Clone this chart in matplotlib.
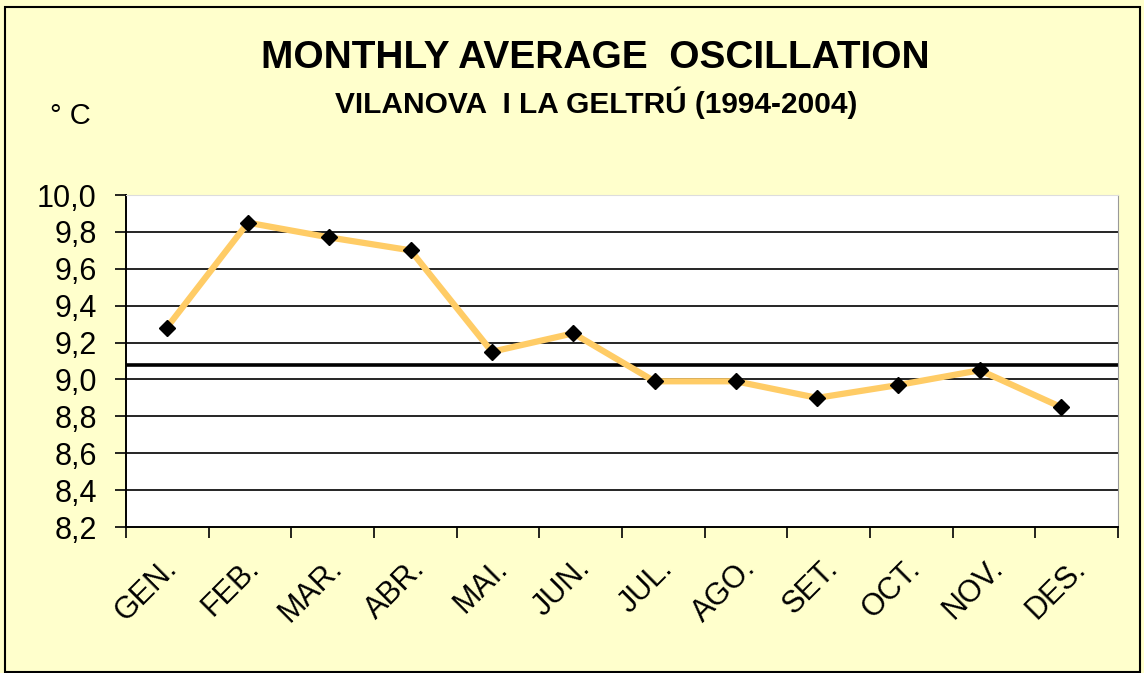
import matplotlib.pyplot as plt
from matplotlib.patches import Rectangle
import numpy as np

# data
months = ["GEN.", "FEB.", "MAR.", "ABR.", "MAI.", "JUN.",
          "JUL.", "AGO.", "SET.", "OCT.", "NOV.", "DES."]
oscillation = [9.28, 9.85, 9.77, 9.70, 9.15, 9.25,
               8.99, 8.99, 8.90, 8.97, 9.05, 8.85]
annual_ref = 9.08
yticks = [8.2, 8.4, 8.6, 8.8, 9.0, 9.2, 9.4, 9.6, 9.8, 10.0]

title = "MONTHLY AVERAGE  OSCILLATION"
subtitle = "VILANOVA  I LA GELTRÚ (1994-2004)"
unit = "° C"

bg = "#FFFFCC"
line_col = "#FFCC66"

plt.rcParams['font.family'] = ['Liberation Sans', 'DejaVu Sans']

fig = plt.figure(figsize=(11.44, 6.73), dpi=100, facecolor=bg)
ax = fig.add_axes([126/1144, 1-527/673, (1118-126)/1144, (527-195)/673])
ax.set_facecolor('white')

x = np.arange(len(months))

# grid lines
for v in yticks[1:-1]:
    ax.axhline(v, color='black', lw=1.2, zorder=1)
ax.axhline(annual_ref, color='black', lw=2.6, zorder=1)

ax.plot(x, oscillation, color=line_col, lw=4.5, zorder=2)
ax.plot(x, oscillation, ls='none', marker='D', color='black', ms=8.5, zorder=3)

xmin, xmax = -0.5, 11.7
ax.set_ylim(8.2, 10.0)
ax.set_xlim(xmin, xmax)

ax.set_yticks(yticks)
ax.set_yticklabels([f"{v:.1f}".replace('.', ',') for v in yticks], fontsize=22)
ax.tick_params(axis='y', direction='out', length=8, width=1.2, pad=13)

# category slots split the axis evenly, like a spreadsheet chart
edges = np.linspace(xmin, xmax, len(months) + 1)
centers = (edges[:-1] + edges[1:]) / 2 - 0.07
ax.set_xticks(centers)
ax.set_xticklabels(months, fontsize=22, rotation=45, ha='right', va='top',
                   rotation_mode='anchor')
ax.tick_params(axis='x', which='major', length=0, pad=19)
ax.set_xticks(edges, minor=True)
ax.tick_params(axis='x', which='minor', direction='out', length=8, width=1.2)

for s in ['left', 'bottom']:
    ax.spines[s].set_linewidth(1.4)
    ax.spines[s].set_color('black')
ax.spines['right'].set_color('#999999')
ax.spines['top'].set_color('#dddddd')

fig.text(595/1144, 1-58/673, title, fontsize=28, fontweight='bold',
         ha='center', va='center')
fig.text(596/1144, 1-103/673, subtitle, fontsize=21.5, fontweight='bold',
         ha='center', va='center')
fig.text(50/1144, 1-116/673, unit, fontsize=21, ha='left', va='center')

fig.patches.append(Rectangle((5/1144, 1-672/673), 1135/1144, 665/673,
                             transform=fig.transFigure, fill=False,
                             edgecolor='black', lw=1.5))

fig.savefig('out.png', dpi=100, facecolor=bg)
